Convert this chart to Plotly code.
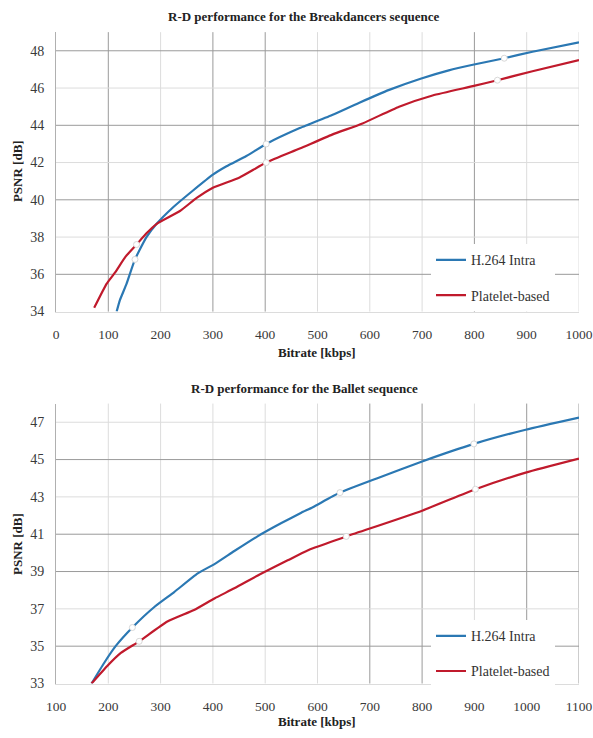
import plotly.graph_objects as go

# ---------------- data: Breakdancers ----------------
bd_h264_x = [116, 122, 135, 151, 173, 192, 224, 262, 300, 326, 364, 402, 466, 484, 528, 579, 637, 697, 751, 797, 857, 911, 1000]
bd_h264_y = [34.0, 34.6, 35.5, 36.8, 38.0, 38.7, 39.6, 40.5, 41.35, 41.8, 42.35, 43.0, 43.85, 44.05, 44.55, 45.2, 45.9, 46.5, 46.95, 47.25, 47.6, 47.95, 48.45]
bd_h264_mk = [3, 11, 20]

bd_plat_x = [73, 97, 113, 133, 154, 173, 192, 237, 269, 300, 351, 402, 466, 528, 586, 656, 720, 797, 844, 911, 1000]
bd_plat_y = [34.2, 35.5, 36.1, 36.95, 37.6, 38.2, 38.7, 39.4, 40.1, 40.65, 41.2, 42.0, 42.75, 43.5, 44.1, 45.0, 45.6, 46.1, 46.42, 46.9, 47.5]
bd_plat_mk = [4, 11, 18]

# ---------------- data: Ballet ----------------
bl_h264_x = [168, 192, 214, 246, 288, 326, 371, 403, 441, 486, 531, 569, 591, 643, 717, 800, 899, 998, 1100]
bl_h264_y = [33.0, 34.1, 35.0, 36.0, 37.1, 37.9, 38.9, 39.4, 40.1, 40.9, 41.6, 42.15, 42.45, 43.23, 44.03, 44.9, 45.84, 46.6, 47.25]
bl_h264_mk = [3, 13, 16]

bl_plat_x = [168, 198, 224, 259, 313, 364, 403, 441, 492, 543, 581, 633, 655, 800, 902, 998, 1100]
bl_plat_y = [33.0, 33.94, 34.64, 35.26, 36.32, 36.94, 37.56, 38.1, 38.88, 39.6, 40.13, 40.66, 40.88, 42.26, 43.41, 44.3, 45.05]
bl_plat_mk = [3, 12, 14]

# tick values
bd_xticks = [0, 100, 200, 300, 400, 500, 600, 700, 800, 900, 1000]
bd_yticks = [34, 36, 38, 40, 42, 44, 46, 48]
bl_xticks = [100, 200, 300, 400, 500, 600, 700, 800, 900, 1000, 1100]
bl_yticks = [33, 35, 37, 39, 41, 43, 45, 47]

# gridlines that appear darker in the original scan
bd_dark_x = [100, 300, 400, 800]
bd_dark_y = [36, 40, 44, 48]
bl_dark_x = [700, 800, 1000, 1100]
bl_dark_y = [35, 39, 41, 45]

series_names = ["H.264 Intra", "Platelet-based"]
BLUE = "#2B78B3"
RED = "#C01A2C"
FONT = "Liberation Serif"

fig = go.Figure()


def add_series(x, y, mk, name, color, xa, ya, legend):
    fig.add_trace(go.Scatter(
        x=x, y=y, mode="lines", name=name, xaxis=xa, yaxis=ya,
        line=dict(color=color, width=2.2, shape="spline", smoothing=0.5),
        legend=legend, legendgroup=legend + name,
    ))
    fig.add_trace(go.Scatter(
        x=[x[i] for i in mk], y=[y[i] for i in mk], mode="markers",
        xaxis=xa, yaxis=ya, showlegend=False, hoverinfo="skip",
        marker=dict(symbol="circle", size=6, color="white",
                    line=dict(color="#d8d8d8", width=1)),
    ))


add_series(bd_h264_x, bd_h264_y, bd_h264_mk, series_names[0], BLUE, "x", "y", "legend")
add_series(bd_plat_x, bd_plat_y, bd_plat_mk, series_names[1], RED, "x", "y", "legend")
add_series(bl_h264_x, bl_h264_y, bl_h264_mk, series_names[0], BLUE, "x2", "y2", "legend2")
add_series(bl_plat_x, bl_plat_y, bl_plat_mk, series_names[1], RED, "x2", "y2", "legend2")

xtickfont = dict(family=FONT, size=13.5, color="#3a3a3a")
ytickfont = dict(family=FONT, size=14, color="#3a3a3a")
LIGHT = "#dcdcdc"
DARK = "#9a9a9a"

common_x = dict(showgrid=False, zeroline=False,
                showline=True, linecolor=LIGHT, linewidth=1, ticks="",
                tickfont=xtickfont, ticklabeloverflow="allow",
                fixedrange=True)
common_y = dict(showgrid=False, zeroline=False,
                showline=True, linecolor="#b0b0b0", linewidth=1, ticks="",
                tickfont=ytickfont, ticklabelstandoff=8, fixedrange=True)

H = 738.0
L, R = 56, 14
PW = 593 - L - R


def px(v):
    return (v - L) / PW


fig.update_layout(
    width=593, height=738,
    margin=dict(l=L, r=R, t=0, b=0),
    paper_bgcolor="white", plot_bgcolor="white",
    xaxis=dict(domain=[0, 1], range=[0, 1000], tickvals=bd_xticks, anchor="y",
               ticklabelstandoff=10, **common_x),
    yaxis=dict(domain=[1 - 315 / H, 1 - 32.5 / H], range=[34, 49], tickvals=bd_yticks,
               anchor="x", **common_y),
    xaxis2=dict(domain=[0, 1], range=[100, 1100], tickvals=bl_xticks, anchor="y2",
                ticklabelstandoff=10, **common_x),
    yaxis2=dict(domain=[1 - 691 / H, 1 - 408 / H], range=[33, 48], tickvals=bl_yticks,
                anchor="x2", **common_y),
    legend=dict(x=px(431), xanchor="left", y=1 - 247 / H, yanchor="top",
                bgcolor="white", borderwidth=0, tracegroupgap=14,
                font=dict(family=FONT, size=14, color="#333333"),
                entrywidth=100, entrywidthmode="pixels"),
    legend2=dict(x=px(431), xanchor="left", y=1 - 627 / H, yanchor="top",
                 bgcolor="white", borderwidth=0, tracegroupgap=14,
                 font=dict(family=FONT, size=14, color="#333333"),
                 entrywidth=100, entrywidthmode="pixels"),
    showlegend=True,
)

shapes = []


def grid(xref, yref, xticks, yticks, dark_x, dark_y):
    for v in xticks:
        c = DARK if v in dark_x else LIGHT
        shapes.append(dict(type="line", xref=xref, yref=yref + " domain", x0=v, x1=v, y0=0, y1=1,
                           line=dict(color=c, width=1), layer="below"))
    for v in yticks:
        c = DARK if v in dark_y else LIGHT
        shapes.append(dict(type="line", xref=xref + " domain", yref=yref, x0=0, x1=1, y0=v, y1=v,
                           line=dict(color=c, width=1), layer="below"))


grid("x", "y", bd_xticks[1:], bd_yticks[1:], bd_dark_x, bd_dark_y)
grid("x2", "y2", bl_xticks[1:], bl_yticks[1:], bl_dark_x, bl_dark_y)
fig.update_layout(shapes=shapes)

titlefont = dict(family=FONT, size=13, color="#222222")
axfont = dict(family=FONT, size=13, color="#222222")
ann = [
    dict(text="<b>R-D performance for the Breakdancers sequence</b>", x=px(304), y=1 - 17 / H,
         font=titlefont, textangle=0, yanchor="middle"),
    dict(text="<b>R-D performance for the Ballet sequence</b>", x=px(304), y=1 - 393 / H,
         font=titlefont, textangle=0, yanchor="middle"),
    dict(text="<b>Bitrate [kbps]</b>", x=px(317), y=1 - 356 / H, font=axfont, textangle=0,
         yanchor="middle"),
    dict(text="<b>Bitrate [kbps]</b>", x=px(317), y=0, font=axfont, textangle=0,
         yanchor="bottom", borderpad=0),
    dict(text="<b>PSNR [dB]</b>", x=px(17), y=1 - 173 / H, font=axfont, textangle=-90,
         yanchor="middle"),
    dict(text="<b>PSNR [dB]</b>", x=px(17), y=1 - 550 / H, font=axfont, textangle=-90,
         yanchor="middle"),
]
for a in ann:
    fig.add_annotation(xref="paper", yref="paper", showarrow=False, xanchor="center", **a)

fig.write_html(
    "out.html",
    config={"displayModeBar": False},
    post_script="document.body.style.margin='0';document.body.style.overflow='hidden';",
)
